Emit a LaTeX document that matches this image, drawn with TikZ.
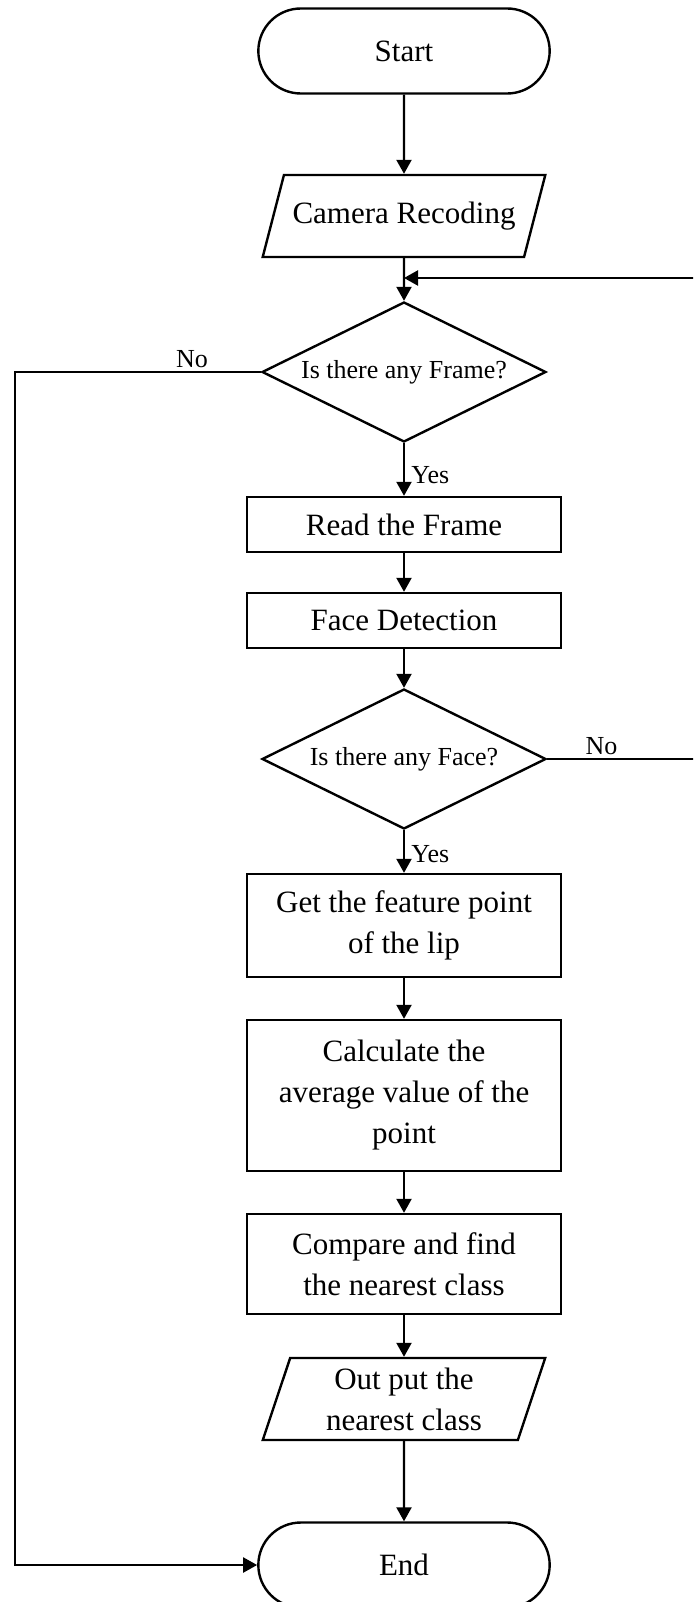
\documentclass[tikz,border=0pt]{standalone}
\usepackage{fontspec}
\setmainfont{Liberation Serif}
\usetikzlibrary{shapes.geometric,shapes.misc,arrows.meta}

\begin{document}
\begin{tikzpicture}[x=1pt, y=-1pt,
    terminal/.style={rounded rectangle, draw, line width=2.4pt, minimum width=298pt, minimum height=85pt, font=\fontsize{31}{41}\selectfont},
    io/.style={trapezium, trapezium left angle=75.6, trapezium right angle=104.4, trapezium stretches=true, draw, line width=2.4pt, minimum width=283pt, minimum height=82pt, inner xsep=2pt, inner ysep=6pt, align=center, font=\fontsize{31}{41}\selectfont},
    block/.style={rectangle, draw, line width=2.4pt, minimum width=314pt, inner sep=2pt, align=center, font=\fontsize{31}{41}\selectfont},
    decision/.style={diamond, draw, line width=2.4pt, aspect=2, inner sep=0pt, minimum width=284pt, minimum height=140pt, font=\fontsize{26}{30}\selectfont},
    arrow/.style={-{Triangle[length=14pt, width=15pt]}, line width=2.2pt},
    lbl/.style={font=\fontsize{26}{30}\selectfont}]

    \useasboundingbox (0,0) rectangle (693,1602);
    \clip (0,0) rectangle (693,1602);

    % Main column
    \node[terminal] (start) at (404,51) {Start};
    \node[io, inner ysep=25pt] (cam) at (404,216) {Camera Recoding};
    \node[decision] (frame) at (404,372) {Is there any Frame?};
    \node[block, minimum height=55pt] (read) at (404,524.5) {Read the Frame};
    \node[block, minimum height=55pt] (detect) at (404,620.5) {Face Detection};
    \node[decision] (face) at (404,759) {Is there any Face?};
    \node[block, minimum height=103pt] (lip) at (404,925.5) {Get the feature point\\of the lip};
    \node[block, minimum height=151pt] (avg) at (404,1095.5) {Calculate the\\average value of the\\point};
    \node[block, minimum height=100pt] (cmp) at (404,1264) {Compare and find\\the nearest class};
    \node[io] (out) at (404,1399) {Out put the\\nearest class};
    \node[terminal] (end) at (404,1565) {End};

    % Helper points for the loops
    \coordinate (join) at (404,278);
    \coordinate (loopR) at (712,278);
    \coordinate (loopL) at (15,1565);

    % Arrows
    \draw[arrow] (start) -- (cam);
    \draw[arrow] (cam) -- (frame);
    \draw[arrow] (frame) -- node[lbl, right, pos=0.6, xshift=3pt] {Yes} (read);
    \draw[arrow] (read) -- (detect);
    \draw[arrow] (detect) -- (face);
    \draw[arrow] (face) -- node[lbl, right, pos=0.55, xshift=3pt] {Yes} (lip);
    \draw[arrow] (lip) -- (avg);
    \draw[arrow] (avg) -- (cmp);
    \draw[arrow] (cmp) -- (out);
    \draw[arrow] (out) -- (end);
    \draw[arrow] (face.east) -| node[lbl, above, pos=0.165] {No} (loopR) -- (join);
    \draw[arrow] (frame.west) -| node[lbl, above, pos=0.14] {No} (loopL) -- (end.west);
\end{tikzpicture}
\end{document}
